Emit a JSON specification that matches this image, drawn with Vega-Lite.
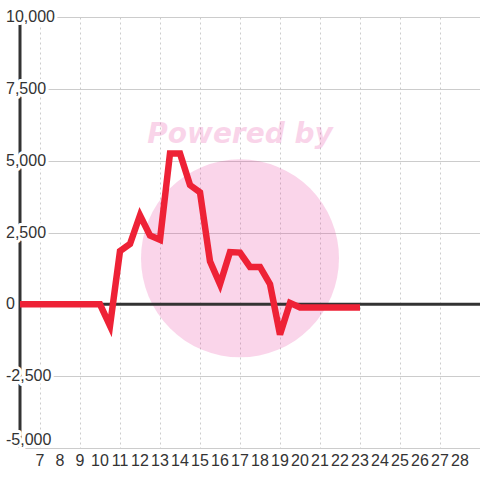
{
  "$schema": "https://vega.github.io/schema/vega-lite/v6.json",
  "width": 460,
  "height": 431,
  "autosize": {"type": "none"},
  "padding": {"left": 20, "top": 17, "right": 0, "bottom": 32},
  "background": "white",
  "config": {
    "view": {"stroke": null},
    "axisY": {"grid": true, "gridColor": "#cccccc", "gridWidth": 1, "labels": false, "ticks": false,
      "domain": false, "title": null},
    "axisX": {"grid": true, "gridColor": "#cccccc", "gridDash": [2, 3], "gridWidth": 1, "labels": false,
      "ticks": false, "domain": true, "domainColor": "#cccccc", "domainWidth": 1, "title": null}
  },
  "datasets": {
    "series": [
      {"d": 6, "v": 0}, {"d": 6.5, "v": 0}, {"d": 7, "v": 0}, {"d": 7.5, "v": 0},
      {"d": 8, "v": 0}, {"d": 8.5, "v": 0}, {"d": 9, "v": 0}, {"d": 9.5, "v": 0},
      {"d": 10, "v": 0}, {"d": 10.5, "v": -750}, {"d": 11, "v": 1850}, {"d": 11.5, "v": 2100},
      {"d": 12, "v": 3100}, {"d": 12.5, "v": 2400}, {"d": 13, "v": 2250}, {"d": 13.5, "v": 5250},
      {"d": 14, "v": 5250}, {"d": 14.5, "v": 4150}, {"d": 15, "v": 3900}, {"d": 15.5, "v": 1500},
      {"d": 16, "v": 700}, {"d": 16.5, "v": 1820}, {"d": 17, "v": 1800}, {"d": 17.5, "v": 1300},
      {"d": 18, "v": 1300}, {"d": 18.5, "v": 700}, {"d": 19, "v": -1050}, {"d": 19.5, "v": 50},
      {"d": 20, "v": -110}, {"d": 20.5, "v": -110}, {"d": 21, "v": -110}, {"d": 21.5, "v": -110},
      {"d": 22, "v": -110}, {"d": 22.5, "v": -110}, {"d": 23, "v": -110}
    ],
    "ylabels": [
      {"v": -5000, "lab": "-5,000"}, {"v": -2500, "lab": "-2,500"}, {"v": 0, "lab": "0"},
      {"v": 2500, "lab": "2,500"}, {"v": 5000, "lab": "5,000"}, {"v": 7500, "lab": "7,500"},
      {"v": 10000, "lab": "10,000"}
    ],
    "xlabels": [
      {"d": 7}, {"d": 8}, {"d": 9}, {"d": 10}, {"d": 11}, {"d": 12}, {"d": 13}, {"d": 14},
      {"d": 15}, {"d": 16}, {"d": 17}, {"d": 18}, {"d": 19}, {"d": 20}, {"d": 21}, {"d": 22},
      {"d": 23}, {"d": 24}, {"d": 25}, {"d": 26}, {"d": 27}, {"d": 28}
    ],
    "watermark": [{"x": 17, "y": 1600, "ty": 5600, "label": "Powered by"}]
  },
  "layer": [
    {
      "data": {"name": "watermark"},
      "mark": {"type": "point", "shape": "circle", "filled": true, "size": 39200, "color": "#e62d96", "opacity": 0.2, "strokeWidth": 0},
      "encoding": {
        "x": {"field": "x", "type": "quantitative",
          "scale": {"domain": [6, 29], "nice": false, "zero": false},
          "axis": {"values": [7,8,9,10,11,12,13,14,15,16,17,18,19,20,21,22,23,24,25,26,27,28]}},
        "y": {"field": "y", "type": "quantitative",
          "scale": {"domain": [-5000, 10000], "nice": false, "zero": false},
          "axis": {"values": [-5000,-3750,-2500,-1250,0,1250,2500,3750,5000,6250,7500,8750,10000]}}
      }
    },
    {
      "data": {"name": "watermark"},
      "mark": {"type": "text", "font": "DejaVu Sans", "fontWeight": "bold", "fontStyle": "italic", "fontSize": 28,
        "align": "center", "baseline": "alphabetic", "color": "#e62d96", "opacity": 0.2},
      "encoding": {
        "x": {"field": "x", "type": "quantitative"},
        "y": {"field": "ty", "type": "quantitative"},
        "text": {"field": "label"}
      }
    },
    {
      "data": {"values": [{}]},
      "mark": {"type": "rule", "color": "#333333", "strokeWidth": 3},
      "encoding": {"y": {"datum": 0, "type": "quantitative"}}
    },
    {
      "data": {"values": [{}]},
      "mark": {"type": "rule", "color": "#333333", "strokeWidth": 3},
      "encoding": {"x": {"datum": 6, "type": "quantitative"}}
    },
    {
      "data": {"name": "ylabels"},
      "mark": {"type": "text", "font": "Liberation Sans", "fontSize": 16, "align": "left", "dx": -14,
        "baseline": {"expr": "datum.v == -5000 ? 'bottom' : 'middle'"},
        "color": "white", "stroke": "white", "strokeWidth": 6, "strokeJoin": "round"},
      "encoding": {
        "x": {"datum": 6, "type": "quantitative"},
        "y": {"field": "v", "type": "quantitative"},
        "text": {"field": "lab"}
      }
    },
    {
      "data": {"name": "ylabels"},
      "mark": {"type": "text", "font": "Liberation Sans", "fontSize": 16, "align": "left", "dx": -14,
        "baseline": {"expr": "datum.v == -5000 ? 'bottom' : 'middle'"},
        "color": "#333333"},
      "encoding": {
        "x": {"datum": 6, "type": "quantitative"},
        "y": {"field": "v", "type": "quantitative"},
        "text": {"field": "lab"}
      }
    },
    {
      "data": {"name": "xlabels"},
      "mark": {"type": "text", "font": "Liberation Sans", "fontSize": 16, "align": "center", "baseline": "top",
        "dy": 5, "color": "#333333"},
      "encoding": {
        "x": {"field": "d", "type": "quantitative"},
        "y": {"datum": -5000, "type": "quantitative"},
        "text": {"field": "d", "type": "quantitative"}
      }
    },
    {
      "data": {"name": "series"},
      "mark": {"type": "line", "color": "#ee2236", "strokeWidth": 6.5},
      "encoding": {
        "x": {"field": "d", "type": "quantitative"},
        "y": {"field": "v", "type": "quantitative"}
      }
    }
  ]
}
